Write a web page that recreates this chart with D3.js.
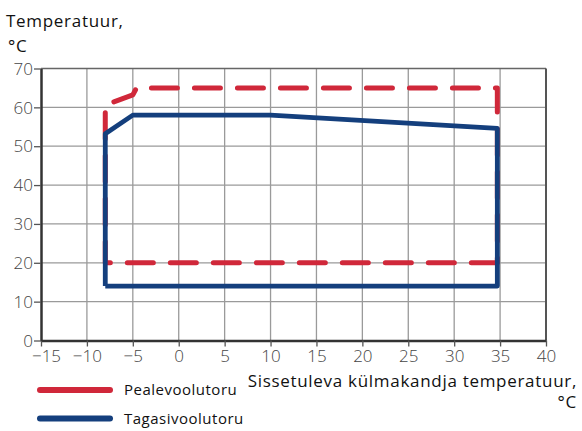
<!DOCTYPE html>
<html>
<head>
<meta charset="utf-8">
<script src="https://cdn.jsdelivr.net/npm/d3@7"></script>
<style>
  html, body { margin: 0; padding: 0; background: #fff; }
  svg { display: block; font-family: "Open Sans", "Noto Sans", sans-serif; }
</style>
</head>
<body>
<svg id="chart" width="582" height="431"></svg>
<script>
// Operating envelope: inlet brine temperature vs. water temperature
const xTicks = [-15, -10, -5, 0, 5, 10, 15, 20, 25, 30, 35, 40];
const yTicks = [0, 10, 20, 30, 40, 50, 60, 70];

// Supply line (Pealevoolutoru) envelope, closed outline
const supplyX = [34.7, -8, -8, -5, -4.6, 34.7, 34.7];
const supplyY = [20, 20, 60.6, 63.2, 65, 65, 20];

// Return line (Tagasivoolutoru) envelope, closed outline
const returnX = [-8, -8, -5, 10, 34.7, 34.7, -8];
const returnY = [14, 53.2, 58, 58, 54.6, 14, 14];

const seriesNames = ["Pealevoolutoru", "Tagasivoolutoru"];
const seriesColors = ["#d0283a", "#143f7d"];

const svg = d3.select("#chart");
const x = d3.scaleLinear().domain([-15, 40]).range([41, 546]);
const y = d3.scaleLinear().domain([0, 70]).range([340.5, 68.5]);

// grid
const grid = svg.append("g");
grid.selectAll("line.v").data(xTicks.slice(1, -1)).join("line")
  .attr("x1", d => x(d)).attr("x2", d => x(d))
  .attr("y1", y(0)).attr("y2", y(70))
  .attr("stroke", "#9a9a9a").attr("stroke-width", 1.3);
grid.selectAll("line.h").data(yTicks.slice(1, -1)).join("line")
  .attr("x1", x(-15)).attr("x2", x(40))
  .attr("y1", d => y(d)).attr("y2", d => y(d))
  .attr("stroke", "#9a9a9a").attr("stroke-width", 1.3);
// frame top / right
svg.append("line").attr("x1", x(-15)).attr("x2", x(40)).attr("y1", y(70)).attr("y2", y(70))
  .attr("stroke", "#666").attr("stroke-width", 1.5);
svg.append("line").attr("x1", x(40)).attr("x2", x(40)).attr("y1", y(70)).attr("y2", y(0))
  .attr("stroke", "#555").attr("stroke-width", 2);

// axes
const xAxis = svg.append("g").attr("transform", `translate(0,${y(0)})`)
  .call(d3.axisBottom(x).tickValues(xTicks).tickSize(6).tickSizeOuter(0)
    .tickFormat(d => d < 0 ? "\u2212" + Math.abs(d) : d));
const yAxis = svg.append("g").attr("transform", `translate(${x(-15)},0)`)
  .call(d3.axisLeft(y).tickValues(yTicks).tickSize(7).tickSizeOuter(0));
[xAxis, yAxis].forEach(a => {
  a.select(".domain").attr("stroke", "#333").attr("stroke-width", 2.5);
  a.selectAll(".tick line").attr("stroke", "#555").attr("stroke-width", 1.3);
  a.selectAll(".tick text").attr("fill", "#444").attr("font-size", 17)
    .attr("font-family", "'Open Sans', sans-serif").attr("font-weight", 300);
});
xAxis.selectAll(".tick text").attr("dy", "0.8em").attr("y", 8)
  .attr("x", d => d === -15 ? 5 : 0);   // keep the corner label clear of the y-axis "0"
yAxis.selectAll(".tick text").attr("x", -8).attr("dy", "0.34em");

// envelopes
const line = d3.line().x(d => x(d[0])).y(d => y(d[1]));
svg.append("path")
  .attr("d", line(d3.zip(supplyX, supplyY)))
  .attr("fill", "none").attr("stroke", seriesColors[0]).attr("stroke-width", 5)
  .attr("stroke-dasharray", "26,17").attr("stroke-linecap", "round").attr("stroke-linejoin", "round");
svg.append("path")
  .attr("d", line(d3.zip(returnX, returnY)))
  .attr("fill", "none").attr("stroke", seriesColors[1]).attr("stroke-width", 4.8)
  .attr("stroke-linejoin", "round");

// titles
const titleStyle = t => t.attr("font-size", 17).attr("letter-spacing", 0.7).attr("fill", "#111");
svg.append("text").attr("x", 6).attr("y", 26.5).call(titleStyle).text("Temperatuur,");
svg.append("text").attr("x", 8).attr("y", 51.5).call(titleStyle).text("°C");
svg.append("text").attr("x", 577).attr("y", 387).attr("text-anchor", "end")
  .call(titleStyle).text("Sissetuleva külmakandja temperatuur,");
svg.append("text").attr("x", 577).attr("y", 408).attr("text-anchor", "end")
  .call(titleStyle).text("°C");

// legend
const leg = svg.append("g");
seriesNames.forEach((name, i) => {
  const ly = 390 + i * 28.5;
  leg.append("line").attr("x1", 40).attr("x2", 110).attr("y1", ly).attr("y2", ly)
    .attr("stroke", seriesColors[i]).attr("stroke-width", 6).attr("stroke-linecap", "round");
  leg.append("text").attr("x", 124).attr("y", ly + 5).attr("font-size", 15)
    .attr("letter-spacing", 0.5).attr("fill", "#111").text(name);
});
</script>
</body>
</html>
